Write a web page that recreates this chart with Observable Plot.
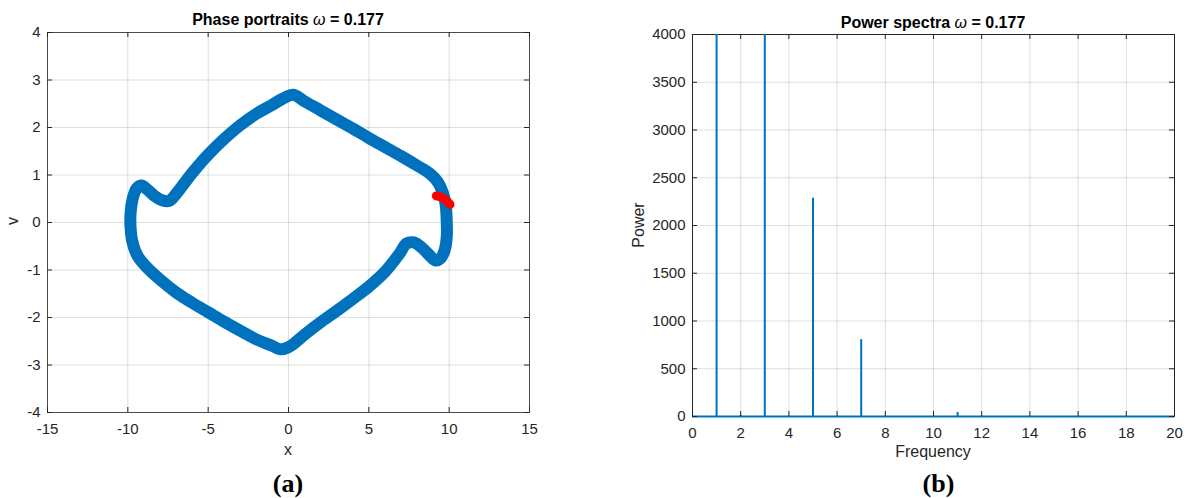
<!DOCTYPE html>
<html>
<head>
<meta charset="utf-8">
<script src="https://cdn.jsdelivr.net/npm/d3@7"></script>
<script src="https://cdn.jsdelivr.net/npm/@observablehq/plot@0.6"></script>
<style>
  html, body { margin: 0; padding: 0; background: #fff; }
  #wrap { position: relative; width: 1191px; height: 498px; overflow: hidden; }
  #left, #right, #overlay { position: absolute; top: 0; }
  #left { left: 0; }
  #right { left: 600px; }
  #overlay { left: 0; pointer-events: none; }
</style>
</head>
<body>
<div id="wrap">
  <div id="left"></div>
  <div id="right"></div>
  <svg id="overlay" width="1191" height="498" xmlns="http://www.w3.org/2000/svg">
    <g font-family="'Liberation Sans', Arial, sans-serif" fill="#000">
      <text x="288" y="25" text-anchor="middle" font-size="16" font-weight="bold">Phase portraits <tspan font-style="italic" font-weight="normal">ω</tspan> = 0.177</text>
      <text x="933" y="28" text-anchor="middle" font-size="16" font-weight="bold">Power spectra <tspan font-style="italic" font-weight="normal">ω</tspan> = 0.177</text>
      <text x="288" y="455" text-anchor="middle" font-size="16" fill="#262626">x</text>
      <text x="933" y="457" text-anchor="middle" font-size="16" fill="#262626">Frequency</text>
      <text transform="translate(17.5,221) rotate(-90)" text-anchor="middle" font-size="16" fill="#262626">v</text>
      <text transform="translate(643.5,225) rotate(-90)" text-anchor="middle" font-size="16" fill="#262626">Power</text>
    </g>
    <g font-family="'Liberation Serif', 'Times New Roman', serif" font-weight="bold" font-size="26" fill="#000">
      <text x="288" y="492" text-anchor="middle">(a)</text>
      <text x="938.5" y="492" text-anchor="middle">(b)</text>
    </g>
  </svg>
</div>
<script>
// ---------- Panel (a): phase portrait ----------
const phaseX = [0.3, 1.0, 2.0, 3.0, 4.0, 5.0, 6.0, 7.0, 8.0, 8.8, 9.3, 9.6, 9.78, 9.85,
  9.85, 9.72, 9.45, 9.15, 8.8, 8.3, 7.8, 7.35, 6.9, 6.0, 5.0, 4.0, 3.0, 2.0, 1.0, 0.3,
  -0.1, -0.5, -1.0, -2.0, -3.0, -4.0, -5.0, -6.0, -7.0, -8.0, -8.8, -9.4, -9.72, -9.83,
  -9.83, -9.7, -9.45, -9.15, -8.8, -8.3, -7.8, -7.4, -7.0, -6.0, -5.0, -4.0, -3.0, -2.0, -1.0, -0.4];
const phaseV = [2.69, 2.55, 2.36, 2.17, 1.98, 1.78, 1.59, 1.4, 1.2, 1.03, 0.85, 0.63, 0.38, 0.0,
  -0.3, -0.58, -0.76, -0.8, -0.7, -0.53, -0.42, -0.44, -0.66, -1.04, -1.35, -1.61, -1.86, -2.1, -2.36, -2.56,
  -2.64, -2.67, -2.6, -2.46, -2.28, -2.09, -1.89, -1.69, -1.47, -1.2, -0.95, -0.7, -0.4, -0.1,
  0.2, 0.5, 0.72, 0.78, 0.7, 0.55, 0.46, 0.46, 0.6, 1.04, 1.43, 1.76, 2.05, 2.29, 2.48, 2.6];
const redX = [9.2, 9.5, 9.8, 10.05];
const redV = [0.56, 0.53, 0.47, 0.38];
const xTicksA = [-15, -10, -5, 0, 5, 10, 15];
const yTicksA = [-4, -3, -2, -1, 0, 1, 2, 3, 4];

// ---------- Panel (b): power spectrum ----------
const specFreq = [1, 2, 3, 5, 7, 11];
const specPower = [9000, 12, 9000, 2285, 805, 42];
const xTicksB = [0, 2, 4, 6, 8, 10, 12, 14, 16, 18, 20];
const yTicksB = [0, 500, 1000, 1500, 2000, 2500, 3000, 3500, 4000];

const blue = "#0072BD";
const axisColor = "#262626";
const gridStyle = {stroke: "#262626", strokeOpacity: 0.15, strokeWidth: 1};
const fontStyle = {fontFamily: "'Liberation Sans', Arial, sans-serif", fontSize: "15px", color: "#262626", background: "transparent", overflow: "visible"};
const fmt = d => String(d);

const trajectory = phaseX.map((x, i) => ({x, v: phaseV[i]}));
const redPath = redX.map((x, i) => ({x, v: redV[i]}));

function inwardTicks(xt, yt, pw, ph) {
  return [
    Plot.ruleX(xt, {x: d => d, insetTop: ph - 5, stroke: axisColor}),
    Plot.ruleX(xt, {x: d => d, insetBottom: ph - 5, stroke: axisColor}),
    Plot.ruleY(yt, {y: d => d, insetRight: pw - 5, stroke: axisColor}),
    Plot.ruleY(yt, {y: d => d, insetLeft: pw - 5, stroke: axisColor})
  ];
}

// left
{
  const W = 560, H = 470, mL = 47, mT = 32, mR = 31, mB = 58;
  const pw = W - mL - mR, ph = H - mT - mB;
  const chart = Plot.plot({
    width: W, height: H,
    marginLeft: mL, marginTop: mT, marginRight: mR, marginBottom: mB,
    style: fontStyle,
    x: {domain: [-15, 15]},
    y: {domain: [-4, 4]},
    marks: [
      Plot.gridX(xTicksA, gridStyle),
      Plot.gridY(yTicksA, gridStyle),
      Plot.frame({stroke: axisColor, strokeOpacity: 0.8}),
      Plot.line(trajectory, {x: "x", y: "v", stroke: blue, strokeWidth: 12, curve: "catmull-rom-closed", strokeLinejoin: "round"}),
      Plot.line(redPath, {x: "x", y: "v", stroke: "#FF0000", strokeWidth: 9, curve: "catmull-rom", strokeLinecap: "round", strokeLinejoin: "round"}),
      Plot.axisX(xTicksA, {tickSize: 0, tickPadding: 11, label: null, fill: axisColor, tickFormat: fmt}),
      Plot.axisY(yTicksA, {tickSize: 0, tickPadding: 7, label: null, fill: axisColor, tickFormat: fmt}),
      ...inwardTicks(xTicksA, yTicksA, pw, ph)
    ]
  });
  document.getElementById("left").appendChild(chart);
}

// right
{
  const W = 591, H = 470, mL = 92, mT = 34, mR = 17, mB = 54;
  const pw = W - mL - mR, ph = H - mT - mB;
  const spikes = specFreq.map((f, i) => ({f, p: specPower[i]}));
  const chart = Plot.plot({
    width: W, height: H,
    marginLeft: mL, marginTop: mT, marginRight: mR, marginBottom: mB,
    style: fontStyle,
    x: {domain: [0, 20]},
    y: {domain: [0, 4000]},
    marks: [
      Plot.gridX(xTicksB, gridStyle),
      Plot.gridY(yTicksB, gridStyle),
      Plot.frame({stroke: axisColor}),
      Plot.ruleY([0], {y: d => d, stroke: blue, strokeWidth: 2}),
      Plot.ruleX(spikes, {x: "f", y1: 0, y2: "p", stroke: blue, strokeWidth: 2, clip: true}),
      Plot.axisX(xTicksB, {tickSize: 0, tickPadding: 11, label: null, fill: axisColor, tickFormat: fmt}),
      Plot.axisY(yTicksB, {tickSize: 0, tickPadding: 7, label: null, fill: axisColor, tickFormat: fmt}),
      ...inwardTicks(xTicksB, yTicksB, pw, ph)
    ]
  });
  document.getElementById("right").appendChild(chart);
}
</script>
</body>
</html>
